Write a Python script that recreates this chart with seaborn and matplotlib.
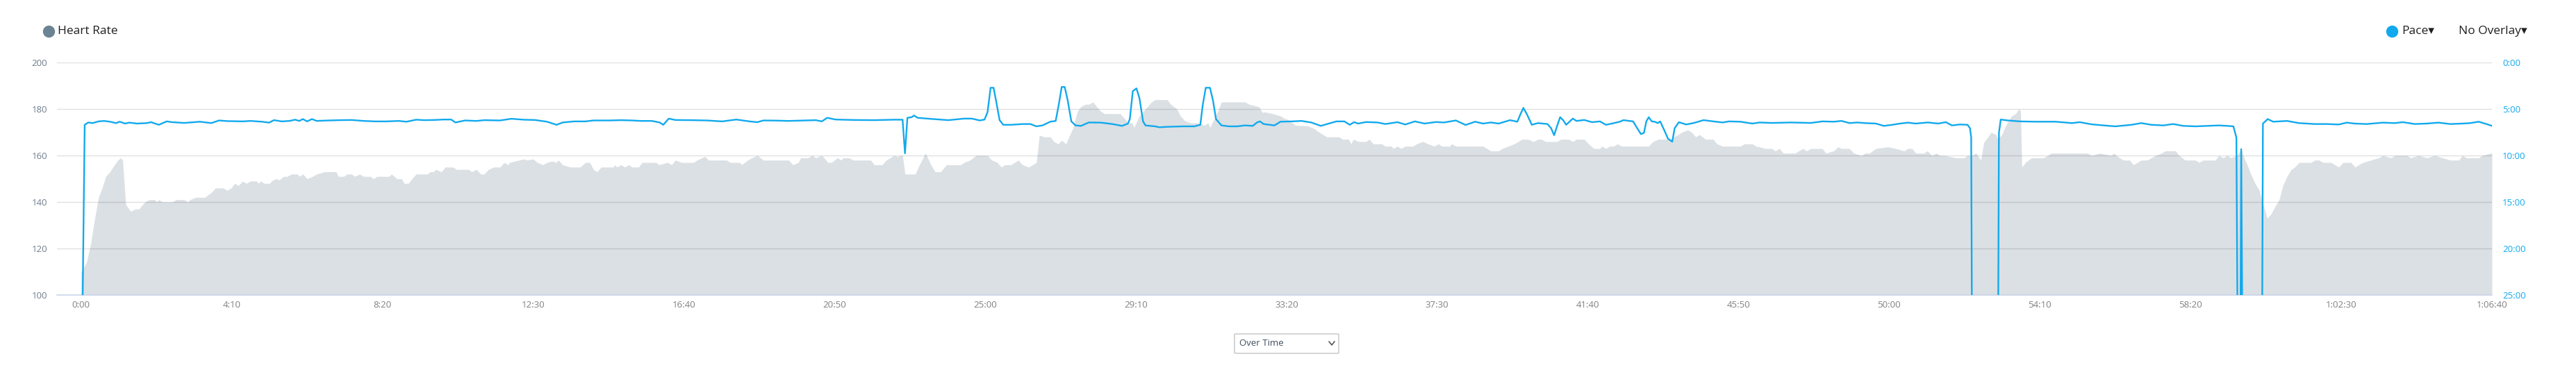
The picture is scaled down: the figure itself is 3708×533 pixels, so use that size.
import matplotlib
matplotlib.use("Agg")
import matplotlib.pyplot as plt
import seaborn as sns
from matplotlib.lines import Line2D
from matplotlib.patches import FancyBboxPatch

# heart rate (elapsed seconds, bpm)
hr_time = [0, 9, 16, 22, 29, 35, 41, 48, 53, 61, 66, 69, 74, 82, 90, 96, 106, 113, 122, 126, 129, 135, 151, 158,
           171, 177, 181, 190, 206, 210, 216, 223, 236, 242, 249, 255, 261, 268, 274, 281, 291, 294, 298, 304,
           313, 316, 323, 329, 336, 342, 349, 359, 362, 368, 375, 384, 391, 404, 423, 427, 436, 441, 449, 454,
           462, 469, 480, 485, 491, 511, 515, 524, 532, 536, 543, 549, 556, 575, 579, 585, 588, 598, 604, 617,
           623, 643, 648, 656, 663, 669, 676, 685, 695, 702, 708, 711, 727, 734, 740, 750, 757, 766, 773, 782,
           788, 792, 799, 812, 828, 837, 844, 850, 856, 863, 883, 886, 889, 896, 902, 909, 914, 925, 931, 954,
           959, 973, 980, 986, 996, 1016, 1022, 1035, 1041, 1071, 1077, 1093, 1096, 1106, 1113, 1122, 1132,
           1174, 1181, 1190, 1194, 1206, 1213, 1219, 1229, 1236, 1239, 1245, 1255, 1261, 1265, 1274, 1281,
           1310, 1316, 1329, 1336, 1349, 1355, 1359, 1363, 1367, 1375, 1384, 1391, 1401, 1410, 1417, 1426,
           1436, 1459, 1465, 1475, 1485, 1504, 1511, 1520, 1527, 1533, 1543, 1555, 1562, 1572, 1579, 1585,
           1590, 1598, 1608, 1614, 1621, 1627, 1634, 1639, 1646, 1653, 1659, 1666, 1672, 1679, 1685, 1692,
           1698, 1724, 1731, 1737, 1744, 1747, 1756, 1766, 1776, 1782, 1802, 1808, 1818, 1824, 1831, 1841,
           1854, 1863, 1870, 1873, 1886, 1892, 1931, 1938, 1954, 1960, 1964, 1977, 1990, 1996, 2002, 2015,
           2035, 2045, 2054, 2067, 2087, 2093, 2103, 2107, 2111, 2119, 2132, 2137, 2144, 2158, 2164, 2174,
           2177, 2184, 2190, 2197, 2210, 2216, 2226, 2235, 2245, 2252, 2258, 2271, 2274, 2281, 2326, 2339,
           2352, 2358, 2368, 2378, 2391, 2400, 2410, 2417, 2423, 2430, 2449, 2455, 2468, 2475, 2481, 2494,
           2501, 2510, 2520, 2523, 2530, 2536, 2543, 2549, 2556, 2601, 2608, 2617, 2637, 2643, 2650, 2656,
           2666, 2672, 2679, 2685, 2695, 2708, 2714, 2724, 2753, 2760, 2773, 2779, 2795, 2805, 2811, 2818,
           2824, 2844, 2850, 2857, 2863, 2870, 2889, 2895, 2908, 2915, 2921, 2934, 2941, 2954, 2960, 2967,
           2978, 2998, 3011, 3025, 3031, 3038, 3044, 3058, 3063, 3071, 3078, 3084, 3091, 3111, 3124, 3130,
           3137, 3144, 3152, 3157, 3164, 3169, 3177, 3180, 3187, 3193, 3203, 3210, 3215, 3218, 3220, 3226,
           3236, 3256, 3263, 3269, 3329, 3336, 3349, 3369, 3372, 3382, 3389, 3399, 3405, 3412, 3418, 3428,
           3435, 3442, 3452, 3458, 3475, 3481, 3491, 3508, 3514, 3521, 3541, 3547, 3554, 3561, 3567, 3577,
           3584, 3587, 3594, 3600, 3607, 3614, 3619, 3624, 3627, 3634, 3640, 3647, 3653, 3660, 3667, 3673,
           3680, 3700, 3706, 3713, 3720, 3733, 3746, 3753, 3766, 3773, 3779, 3786, 3799, 3812, 3819, 3832,
           3839, 3859, 3865, 3878, 3892, 3905, 3918, 3931, 3945, 3951, 3958, 3978, 3984, 3998, 4000]
hr_bpm = [110, 114, 122, 132, 142, 146, 151, 153, 155, 158, 159, 158, 139, 136, 137, 137, 140, 141, 141, 140, 141,
          140, 140, 141, 141, 140, 141, 142, 142, 143, 144, 146, 146, 145, 146, 148, 147, 149, 148, 149, 149, 148,
          149, 148, 148, 149, 150, 149.5, 151, 151, 152, 152, 151, 152, 150, 151, 152, 153, 153, 151, 151, 152,
          152, 151, 152, 151, 151, 150, 151, 151, 152, 150, 150, 148, 148, 150, 152, 152, 153, 153, 154, 153,
          155, 155, 154, 154, 153, 154, 152, 152, 154, 155, 155, 157, 156, 157, 158, 158.5, 158, 158.5, 157, 156,
          157, 157.6, 157, 158, 156, 155, 155, 157, 157, 154, 153, 155, 155, 156, 155, 156, 155, 156, 155, 155,
          157, 157, 156, 157, 156, 158, 157, 157, 158, 159.6, 158, 158, 157, 157, 156, 158, 159, 160, 158, 158,
          156, 157, 159, 159, 160, 159, 160, 158, 157, 157, 159, 158, 159, 159, 158, 158, 156, 156, 158, 160,
          159.5, 160, 160, 152, 152, 152, 156, 161, 156, 153, 153, 156, 156, 157, 158, 160, 160, 158, 157, 155,
          156, 156, 158, 156, 155, 156, 157, 168.7, 168, 168, 166, 165, 166.5, 165, 168, 172, 179, 181, 182,
          182, 183, 181, 179, 178, 178, 176, 174, 174, 172, 177, 180, 183, 184, 184, 182, 180, 177, 175, 174,
          174, 173, 174, 172, 179, 183, 183, 182, 181, 178.5, 178.7, 178, 177, 176, 175.5, 173, 172.7, 171.7,
          170, 168, 168, 167, 167, 165, 167, 166, 166, 167, 165, 165, 164, 164, 163, 164, 163, 164, 164, 165,
          166, 165, 164, 165, 164, 164, 165, 164, 164, 162, 162, 163, 164, 165, 167, 167, 166, 167, 167, 166,
          166, 167, 167, 166, 167, 167, 165, 163, 163, 164, 163, 164, 164, 165, 164, 164, 166, 167, 167, 168,
          169, 170, 171, 170, 168, 169, 167, 167, 165, 164, 164, 165, 165, 164, 163, 163, 162, 163, 161, 161,
          162, 163, 162, 163, 163, 161, 162, 163.7, 163, 163, 161, 160, 161, 161, 163, 163.7, 163, 162, 163,
          163, 161, 161, 162, 160, 161, 160, 160, 159, 159, 160, 160, 161, 158, 165.7, 168, 170, 169, 167, 169,
          172.7, 177, 178, 180, 179, 155, 157, 159, 159, 160, 161, 161, 160, 161, 160, 161, 159, 158, 158, 156,
          157, 158, 158, 159, 160, 161, 162, 162, 160, 158, 158, 157, 158, 158, 160, 159, 160, 159, 160, 162.7,
          160, 156, 152, 148, 145, 140, 136, 133, 135, 138, 141, 147, 151, 154, 155, 157, 157, 158, 158, 157,
          157, 155, 157, 157, 155, 156, 157, 158, 159, 160, 159, 160, 160, 159, 160, 159, 160, 159, 158, 158,
          160, 159, 159, 160, 161, 161]

# pace (elapsed seconds, seconds per km); stops run off the bottom of the scale
pace_time = [0, 6, 12, 19, 29, 38, 48, 58, 64, 73, 80, 93, 109, 116, 129, 142, 151, 171, 197, 216, 229, 242, 268,
             281, 300, 312, 320, 333, 346, 355, 362, 368, 375, 383, 391, 410, 430, 449, 469, 488, 507, 527, 540,
             556, 569, 585, 601, 614, 621, 637, 656, 669, 695, 714, 734, 753, 773, 789, 799, 818, 837, 850, 876,
             896, 915, 928, 947, 960, 966, 975, 986, 1012, 1038, 1064, 1087, 1109, 1122, 1132, 1155, 1174, 1200,
             1219, 1229, 1238, 1252, 1284, 1316, 1349, 1363, 1367, 1371, 1378, 1382, 1388, 1414, 1439, 1465,
             1478, 1491, 1499, 1504, 1509, 1514, 1518, 1524, 1530, 1543, 1562, 1575, 1585, 1595, 1608, 1617,
             1622, 1627, 1632, 1637, 1643, 1650, 1659, 1672, 1692, 1711, 1727, 1737, 1740, 1745, 1751, 1756,
             1762, 1766, 1782, 1789, 1802, 1828, 1847, 1857, 1861, 1866, 1873, 1878, 1883, 1892, 1905, 1918,
             1931, 1944, 1951, 1956, 1962, 1980, 1990, 2009, 2025, 2041, 2057, 2070, 2083, 2096, 2105, 2112,
             2119, 2132, 2151, 2164, 2184, 2197, 2213, 2229, 2248, 2261, 2281, 2297, 2313, 2326, 2339, 2352,
             2371, 2383, 2388, 2393, 2399, 2407, 2417, 2433, 2439, 2444, 2449, 2454, 2459, 2464, 2475, 2481,
             2494, 2507, 2520, 2530, 2540, 2553, 2559, 2575, 2582, 2588, 2593, 2597, 2601, 2606, 2611, 2616,
             2620, 2627, 2633, 2640, 2644, 2651, 2663, 2675, 2692, 2708, 2724, 2734, 2753, 2773, 2785, 2805,
             2837, 2870, 2889, 2908, 2921, 2934, 2947, 2960, 2978, 2991, 3005, 3018, 3031, 3044, 3064, 3081,
             3094, 3104, 3117, 3130, 3134, 3136, 3138, 3180, 3182, 3185, 3197, 3217, 3243, 3276, 3303, 3316,
             3336, 3356, 3375, 3402, 3418, 3435, 3455, 3471, 3488, 3508, 3528, 3547, 3561, 3571, 3576, 3579,
             3582, 3584, 3587, 3618, 3620, 3628, 3637, 3647, 3660, 3680, 3706, 3726, 3746, 3759, 3772, 3792,
             3819, 3839, 3852, 3872, 3892, 3911, 3931, 3951, 3964, 3978, 3991, 4000]
pace_sec = [2400, 402, 387, 391, 380, 377, 382, 391, 382, 394, 388, 394, 391, 385, 402, 380, 385, 390, 382, 391,
            374, 378, 380, 377, 382, 388, 372, 380, 377, 369, 377, 365, 380, 365, 377, 374, 372, 371, 377, 380,
            380, 377, 382, 369, 372, 371, 368, 368, 387, 374, 377, 372, 374, 363, 369, 371, 382, 402, 387, 380,
            380, 374, 374, 372, 374, 377, 377, 387, 402, 362, 371, 372, 374, 380, 368, 380, 385, 374, 375, 377,
            374, 372, 380, 357, 368, 371, 372, 369, 369, 586, 357, 353, 342, 357, 365, 372, 362, 362, 374, 368,
            320, 163, 163, 245, 372, 402, 402, 397, 397, 412, 406, 382, 377, 275, 158, 158, 245, 380, 406, 409,
            387, 388, 397, 409, 394, 365, 185, 167, 230, 380, 406, 412, 418, 415, 412, 412, 402, 275, 163, 163,
            245, 365, 406, 412, 412, 406, 409, 387, 380, 397, 406, 382, 380, 377, 387, 409, 394, 380, 380, 402,
            385, 394, 384, 387, 397, 385, 400, 380, 394, 384, 387, 374, 403, 382, 394, 387, 394, 372, 382, 335,
            293, 335, 402, 391, 397, 424, 469, 409, 353, 372, 402, 362, 377, 371, 385, 380, 402, 394, 382, 372,
            380, 424, 462, 454, 380, 353, 380, 382, 391, 380, 439, 492, 511, 424, 385, 400, 391, 372, 380, 387,
            380, 382, 394, 387, 390, 387, 390, 380, 382, 377, 391, 387, 391, 394, 409, 402, 394, 388, 394, 387,
            394, 385, 406, 400, 402, 424, 484, 2400, 2400, 454, 368, 374, 380, 382, 382, 391, 385, 399, 406, 412,
            402, 391, 402, 406, 397, 409, 412, 409, 406, 409, 412, 484, 2400, 2400, 559, 2400, 2400, 394, 365,
            382, 380, 377, 391, 397, 397, 400, 388, 394, 397, 388, 391, 385, 397, 394, 388, 397, 394, 391, 382,
            397, 409]

x_tick_sec = [0, 250, 500, 750, 1000, 1250, 1500, 1750, 2000, 2250, 2500, 2750, 3000, 3250, 3500, 3750, 4000]
x_tick_labels = ["0:00", "4:10", "8:20", "12:30", "16:40", "20:50", "25:00", "29:10", "33:20", "37:30",
                 "41:40", "45:50", "50:00", "54:10", "58:20", "1:02:30", "1:06:40"]
hr_ticks = [100, 120, 140, 160, 180, 200]
pace_ticks = [0, 300, 600, 900, 1200, 1500]
pace_tick_labels = ["0:00", "5:00", "10:00", "15:00", "20:00", "25:00"]

HR_FILL = "#dbe0e4"
HR_DOT = "#6c8394"
PACE_BLUE = "#11a9ed"

sns.set_style("white")
plt.rcParams['font.family'] = ['Open Sans', 'DejaVu Sans']

W, H = 3708, 533
fig = plt.figure(figsize=(W / 100, H / 100), dpi=100)

def fx(px):
    return px / W

def fy(py):
    return 1 - py / H

ax = fig.add_axes([fx(82), fy(425), fx(3587 - 82), (425 - 90) / H])
ax.fill_between(hr_time, hr_bpm, 100, color=HR_FILL, lw=0, zorder=1)
ax.set_xlim(-40, 4000)
ax.set_ylim(100, 200)
ax.set_yticks(hr_ticks)
ax.set_xticks(x_tick_sec, x_tick_labels)
ax.grid(axis='y', color='black', alpha=0.12, lw=1.0)
ax.grid(axis='x', visible=False)
ax.set_axisbelow('line')
for side in ['top', 'left', 'right']:
    ax.spines[side].set_visible(False)
ax.spines['bottom'].set_color('#ccd6eb')
ax.spines['bottom'].set_linewidth(1.2)
ax.tick_params(axis='both', length=0, labelsize=9.5)
ax.tick_params(axis='y', colors='#6e7d8c', pad=10)
ax.tick_params(axis='x', colors='#808080', pad=6)

ax2 = ax.twinx()
sns.lineplot(x=pace_time, y=pace_sec, ax=ax2, color=PACE_BLUE, lw=1.7, estimator=None, sort=False)
ax2.set_ylim(1500, 0)
ax2.set_yticks(pace_ticks, pace_tick_labels)
ax2.set_ylabel('')
ax2.grid(False)
ax2.tick_params(axis='y', length=0, colors=PACE_BLUE, labelsize=9.5, pad=11)
for side in ax2.spines:
    ax2.spines[side].set_visible(False)

# legend / header items
fig.add_artist(Line2D([fx(70)], [fy(45)], marker='o', ms=11.5, lw=0, color=HR_DOT, transform=fig.transFigure))
fig.text(fx(83), fy(45), "Heart Rate", fontsize=12.5, color='#1f1f1f', va='center', ha='left')
fig.add_artist(Line2D([fx(3443)], [fy(45)], marker='o', ms=11.5, lw=0, color=PACE_BLUE, transform=fig.transFigure))
fig.text(fx(3457), fy(45), "Pace\u25be", fontsize=12.5, color='#1f1f1f', va='center', ha='left')
fig.text(fx(3539), fy(45), "No Overlay\u25be", fontsize=12.5, color='#1f1f1f', va='center', ha='left')

# "Over Time" select box
fig.add_artist(FancyBboxPatch((fx(1777), fy(509)), fx(150), 28 / H,
                              boxstyle="round,pad=0,rounding_size=0.001",
                              transform=fig.transFigure, fc='white', ec='#c4c4c4', lw=1))
fig.text(fx(1784), fy(495), "Over Time", fontsize=9.5, color='#3d4d5c', va='center', ha='left')
fig.add_artist(Line2D([fx(1913), fx(1917), fx(1921)], [fy(492), fy(497), fy(492)],
                      color='#555555', lw=1.2, transform=fig.transFigure))

fig.savefig("out.png", dpi=100)
